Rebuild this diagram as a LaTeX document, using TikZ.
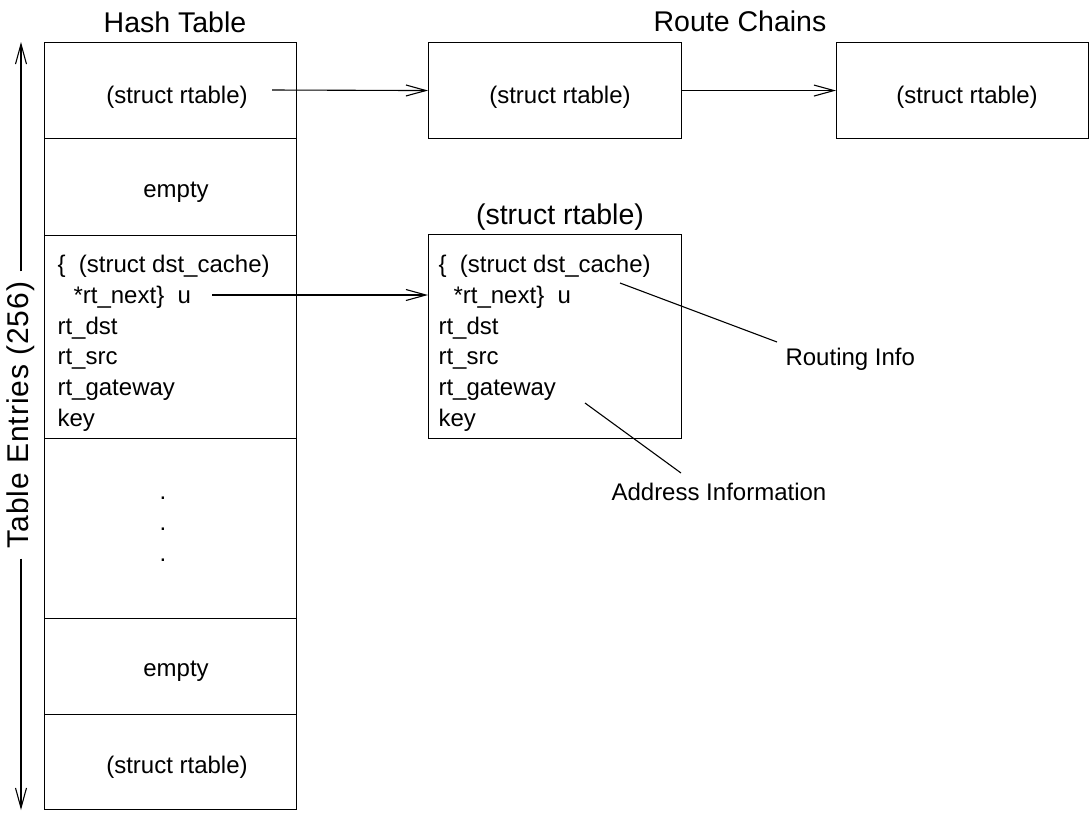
\documentclass[tikz,border=0pt]{standalone}
\usepackage{fontspec}
\setmainfont{Liberation Sans}
\usetikzlibrary{arrows.meta}
\tikzset{
  x=1pt, y=-1pt,
  every path/.style={line width=1.1pt},
  cell/.style={draw, line width=1.1pt, anchor=north west, inner sep=0pt},
  body/.style={font=\fontsize{24}{28}\selectfont, inner sep=0pt},
  ttl/.style={font=\fontsize{28.5}{32}\selectfont, inner sep=0pt, anchor=base},
  arr/.style={-{Straight Barb[length=20pt,width=11pt,line width=1.1pt]}},
}
\begin{document}
\begin{tikzpicture}
\useasboundingbox (0,0) rectangle (1091,812);
% titles
\node[ttl] (tHash) at (175,32) {Hash Table};
\node[ttl] (tRoute) at (740,31) {Route Chains};
\node[ttl] (tStruct) at (560,224) {(struct rtable)};
% hash table rows
\node[cell, minimum width=252, minimum height=96] (r1) at (44,42) {};
\node[cell, minimum width=252, minimum height=97] (r2) at (44,138) {};
\node[cell, minimum width=252, minimum height=203] (r3) at (44,235) {};
\node[cell, minimum width=252, minimum height=180] (r4) at (44,438) {};
\node[cell, minimum width=252, minimum height=96] (r5) at (44,618) {};
\node[cell, minimum width=252, minimum height=95] (r6) at (44,714) {};
% row texts
\node[body, anchor=base] (r1t) at (177,103) {(struct rtable)};
\node[body, anchor=base] (r2t) at (176,197) {empty};
\node[body, anchor=base west] (h1) at (57,272) {\{\ \ (struct dst\_cache)};
\node[body, anchor=base west] (h2) at (73,303) {*rt\_next\}\ \ u};
\node[body, anchor=base west] (h3) at (57,334) {rt\_dst};
\node[body, anchor=base west] (h4) at (57,364) {rt\_src};
\node[body, anchor=base west] (h5) at (57,395) {rt\_gateway};
\node[body, anchor=base west] (h6) at (57,426) {key};
\node[body, anchor=base] (d1) at (163,499) {.};
\node[body, anchor=base] (d2) at (163,530) {.};
\node[body, anchor=base] (d3) at (163,561) {.};
\node[body, anchor=base] (r5t) at (176,676) {empty};
\node[body, anchor=base] (r6t) at (177,773) {(struct rtable)};
% route chain boxes
\node[cell, minimum width=253, minimum height=96] (b1) at (428,42) {};
\node[cell, minimum width=252, minimum height=96] (b2) at (836,42) {};
\node[body, anchor=base] (b1t) at (560,103) {(struct rtable)};
\node[body, anchor=base] (b2t) at (967,103) {(struct rtable)};
% struct box
\node[cell, minimum width=253, minimum height=204] (sb) at (428,234) {};
\node[body, anchor=base west] (s1) at (438,272) {\{\ \ (struct dst\_cache)};
\node[body, anchor=base west] (s2) at (453,303) {*rt\_next\}\ \ u};
\node[body, anchor=base west] (s3) at (438,334) {rt\_dst};
\node[body, anchor=base west] (s4) at (438,364) {rt\_src};
\node[body, anchor=base west] (s5) at (438,395) {rt\_gateway};
\node[body, anchor=base west] (s6) at (438,426) {key};
% annotations
\node[body, anchor=base west] (ri) at (785,365) {Routing Info};
\node[body, anchor=base west] (ai) at (611,500) {Address Information};
\coordinate (riA) at (620,283);
\coordinate (riB) at (777,342);
\coordinate (aiA) at (585,403);
\coordinate (aiB) at (681,473);
\draw (riA) -- (riB);
\draw (aiA) -- (aiB);
% arrows
\coordinate (p1) at (272,90);
\coordinate (p2) at (212,295);
\draw[arr] (p1) -- (b1.west);
\draw[arr] (b1.east) -- (b2.west);
\draw[arr] (p2) -- (sb.west |- p2);
% vertical arrow
\node[font=\fontsize{30}{34}\selectfont\addfontfeature{LetterSpace=3}, rotate=90, inner xsep=10pt, inner ysep=0pt] (te) at (21,415) {Table Entries (256)};
\coordinate (vtop) at (21,42);
\coordinate (vbot) at (21,810);
\draw[arr] (te.east) -- (vtop);
\draw[arr] (te.west) -- (vbot);
\end{tikzpicture}
\end{document}
